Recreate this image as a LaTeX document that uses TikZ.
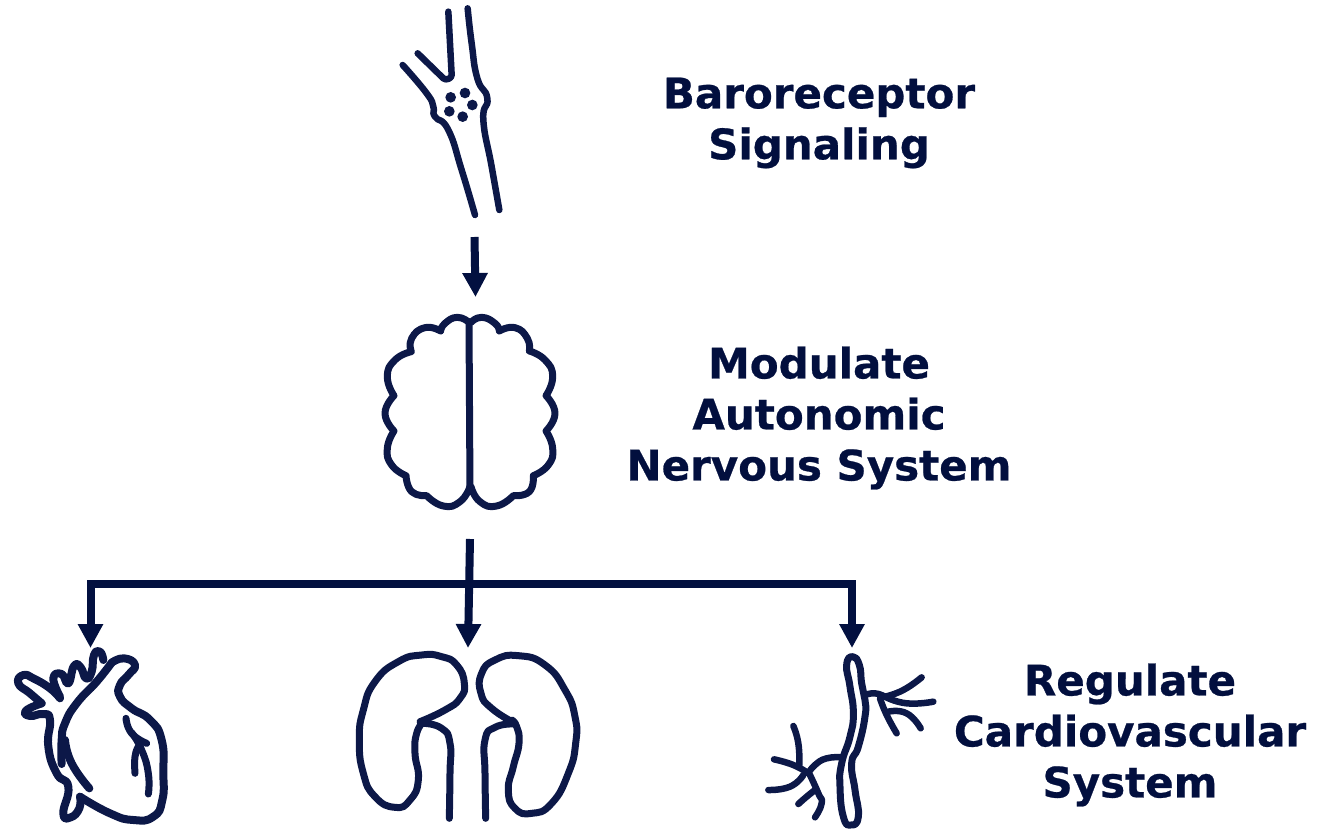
\documentclass[tikz,border=0pt]{standalone}
\usepackage{fontspec}
\setmainfont{DejaVu Sans}[BoldFont={DejaVu Sans Bold},BoldFeatures={FakeBold=0.6}]
\usetikzlibrary{arrows.meta}
\definecolor{ink}{HTML}{0C1848}
\definecolor{arrowink}{HTML}{021040}
\definecolor{textink}{HTML}{020F3E}
\tikzset{
  x=1pt,y=-1pt,
  icon/.style={draw=ink,line cap=round,line join=round,line width=#1},
  icon/.default=7pt,
  conn/.style={draw=arrowink,line width=8pt},
  tip/.style={draw=arrowink,line width=8pt,-{Triangle[length=24pt,width=24pt]}},
  caption/.style={text=textink,font=\fontsize{42}{51}\selectfont\bfseries,align=center,inner sep=0pt},
  dotc/.style={fill=ink,draw=none},
  curve/.style={smooth,tension=0.9}
}
\begin{document}
\begin{tikzpicture}
\useasboundingbox (0,0) rectangle (1336,829);
% vessel
\begin{scope}[shift={(380,0)},scale=1/3]
\draw[icon=6.5pt] plot[curve] coordinates {(68,195) (140,280) (160,320) (165,350) (205,390) (245,510) (285,645)};
\draw[icon=6.5pt] (113,160) -- (190,235) to[out=-45,in=-90] (215,225) -- (205,35);
\draw[icon=6.5pt] plot[curve] coordinates {(263,25) (275,130) (292,235) (322,295) (310,360) (335,500) (358,630)};
\fill[dotc] (212,292) circle (16);
\fill[dotc] (255,279) circle (16);
\fill[dotc] (277,315) circle (16);
\fill[dotc] (248,350) circle (16);
\fill[dotc] (208,334) circle (16);
\end{scope}
% brain
\begin{scope}[shift={(370,305)},scale=1/3]
\draw[icon=7pt] (297,50) -- (300,560);
\draw[icon=7pt]
 plot[curve] coordinates {(297,52) (262,37) (225,55) (212,78)}
 plot[curve] coordinates {(212,78) (165,68) (125,100) (124,140)}
 plot[curve] coordinates {(124,140) (75,165) (52,215) (72,272)}
 plot[curve] coordinates {(72,272) (45,325) (72,378)}
 plot[curve] coordinates {(72,378) (52,430) (65,480) (108,512)}
 plot[curve] coordinates {(108,512) (125,560) (170,572)}
 plot[curve] coordinates {(170,572) (220,603) (270,590) (300,545)};
\draw[icon=7pt]
 plot[curve] coordinates {(303,52) (335,37) (375,55) (388,78)}
 plot[curve] coordinates {(388,78) (435,68) (472,100) (478,138)}
 plot[curve] coordinates {(478,138) (525,165) (548,215) (528,272)}
 plot[curve] coordinates {(528,272) (555,325) (528,378)}
 plot[curve] coordinates {(528,378) (548,430) (535,480) (490,512)}
 plot[curve] coordinates {(490,512) (478,560) (430,572)}
 plot[curve] coordinates {(430,572) (380,603) (330,590) (303,545)};
\end{scope}
% heart
\begin{scope}[shift={(0,640)},scale=1/3]
\draw[icon=8pt] plot[curve] coordinates {(335,68) (372,55) (405,75) (385,105) (360,135) (360,170) (395,205) (450,240) (485,300) (490,400) (487,480) (460,530) (400,540) (330,520) (240,470)};
\draw[icon=8pt] plot[curve] coordinates {(240,470) (238,505) (212,532) (190,520) (205,440) (170,400) (145,320) (150,240) (130,222) (90,228) (78,212) (125,190)};
\draw[icon=8pt] plot[curve] coordinates {(125,190) (90,160) (55,130) (70,105) (100,115) (150,145) (180,175)};
\draw[icon=8pt] plot[curve] coordinates {(180,170) (160,115) (185,102) (205,130) (222,78) (242,82) (258,115) (275,95) (282,45) (300,35) (310,60)};
\draw[icon=8pt] plot[curve] coordinates {(335,68) (290,125) (230,190) (195,250) (185,300) (185,372)};
\draw[icon=8pt] plot[curve] coordinates {(195,300) (215,370) (268,445)};
\draw[icon=7pt] plot[curve] coordinates {(378,235) (395,280) (440,310)};
\draw[icon=7pt] plot[curve] coordinates {(395,278) (425,330) (445,400) (445,462)};
\draw[icon=7pt] plot[curve] coordinates {(415,320) (405,350) (405,400)};
\end{scope}
% kidneys
\begin{scope}[shift={(345,640)},scale=1/3]
\draw[icon=7pt] plot[curve] coordinates {(225,245) (300,210) (345,175) (358,130) (335,75) (290,50) (230,45) (160,65) (90,125) (55,210) (43,300) (55,400) (90,470) (150,502) (195,480) (220,420) (210,340) (215,280) (235,245)};
\draw[icon=7pt] plot[curve] coordinates {(235,250) (290,265) (315,310) (315,400) (313,535)};
\draw[icon=7pt] plot[curve] coordinates {(510,250) (440,205) (408,160) (410,100) (450,60) (520,47) (600,75) (660,150) (690,230) (692,310) (670,400) (620,490) (560,520) (510,505) (490,450) (505,380) (522,310) (515,260) (500,240)};
\draw[icon=7pt] plot[curve] coordinates {(505,252) (450,262) (420,300) (420,400) (422,535)};
\end{scope}
% vessel tree
\begin{scope}[shift={(760,640)},scale=1/3]
\draw[icon=7pt] plot[smooth cycle,tension=.9] coordinates {(260,75) (278,50) (298,75) (305,130) (315,180) (315,230) (295,320) (275,370) (285,450) (295,530) (272,555) (250,530) (240,440) (245,370) (270,290) (280,220) (270,140)};
\draw[icon=6.5pt] plot[curve] coordinates {(315,165) (345,160) (375,170)};
\draw[icon=6.5pt] plot[curve] coordinates {(375,170) (430,150) (485,112)};
\draw[icon=6.5pt] plot[curve] coordinates {(375,170) (440,190) (520,185)};
\draw[icon=6.5pt] plot[curve] coordinates {(360,175) (380,225) (410,280)};
\draw[icon=6.5pt] plot[curve] coordinates {(385,215) (440,220) (482,265)};
\draw[icon=6.5pt] plot[curve] coordinates {(245,352) (200,355) (165,375) (145,400)};
\draw[icon=6.5pt] plot[curve] coordinates {(145,400) (100,375) (42,358)};
\draw[icon=6.5pt] plot[curve] coordinates {(130,405) (90,440) (25,450)};
\draw[icon=6.5pt] plot[curve] coordinates {(118,375) (115,310) (100,258)};
\draw[icon=6.5pt] plot[curve] coordinates {(150,405) (175,460) (185,490) (165,532)};
\draw[icon=6.5pt] plot[curve] coordinates {(165,450) (140,470) (115,492)};
\end{scope}
% captions
\node[caption] (baro) at (819,123) {Baroreceptor\\Signaling};
\node[caption] (modu) at (819,418) {Modulate\\Autonomic\\Nervous System};
\node[caption] (regu) at (1130,735) {Regulate\\Cardiovascular\\System};
% connectors
\coordinate (vesselEnd) at (474.5,237);
\coordinate (brainTop) at (475.5,297);
\coordinate (brainEnd) at (470,539);
\coordinate (busMid) at (469.5,584);
\coordinate (busL) at (90.5,584);
\coordinate (busR) at (852,584);
\coordinate (heartTop) at (90.5,648);
\coordinate (kidneyTop) at (468,648);
\coordinate (treeTop) at (852,648);
\draw[tip] (vesselEnd) -- (brainTop);
\draw[tip] (brainEnd) -- (kidneyTop);
\draw[tip] (busMid) -- (busL) -- (heartTop);
\draw[tip] (busMid) -- (busR) -- (treeTop);
\end{tikzpicture}
\end{document}
